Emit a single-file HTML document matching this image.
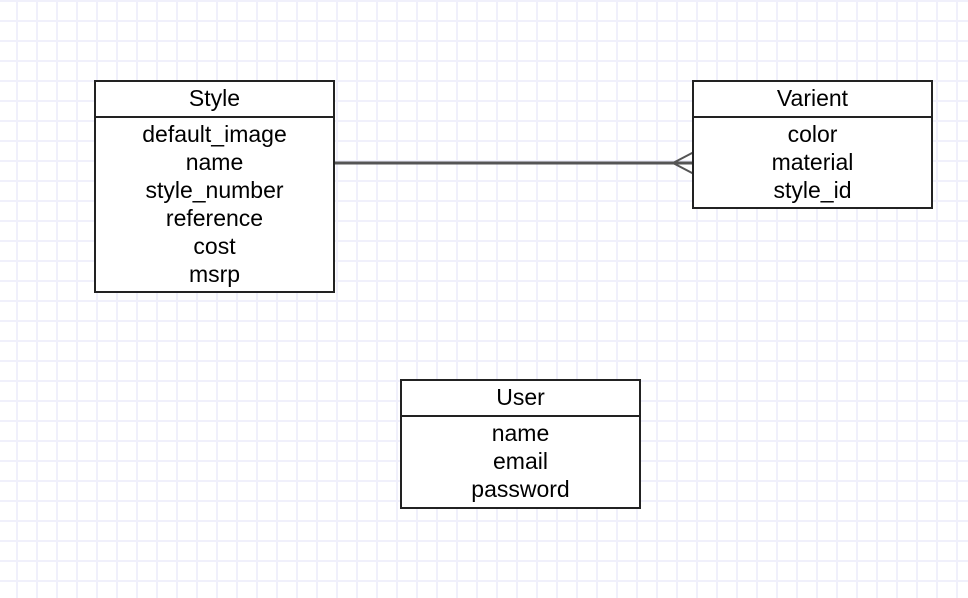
<!DOCTYPE html>
<html><head><style>
body{margin:0;width:968px;height:598px;overflow:hidden;background:#fff;
background-image:linear-gradient(to right,#f0f0fb 2px,transparent 2px),linear-gradient(to bottom,#f0f0fb 2px,transparent 2px);
background-size:20px 20px;background-position:16px 20px;font-family:"Liberation Sans",sans-serif;}
.b{position:absolute;border:2px solid #222;background:#fff;box-sizing:border-box;text-align:center;font-size:23px;color:#000}
.h{height:34px;line-height:33px;border-bottom:2px solid #222}
.r{line-height:28px;padding-top:2px}
</style></head><body>
<svg width="968" height="598" style="position:absolute;left:0;top:0">
<line x1="334" y1="163" x2="694" y2="163" stroke="#555" stroke-width="3"/>
<path d="M694 152 L673 163 L694 174" fill="none" stroke="#555" stroke-width="2"/>
</svg>
<div class="b" style="left:94px;top:80px;width:241px;height:213px"><div class="h">Style</div><div class="r">default_image<br>name<br>style_number<br>reference<br>cost<br>msrp</div></div>
<div class="b" style="left:692px;top:80px;width:241px;height:129px"><div class="h">Varient</div><div class="r">color<br>material<br>style_id</div></div>
<div class="b" style="left:400px;top:379px;width:241px;height:130px"><div class="h">User</div><div class="r">name<br>email<br>password</div></div>
</body></html>
